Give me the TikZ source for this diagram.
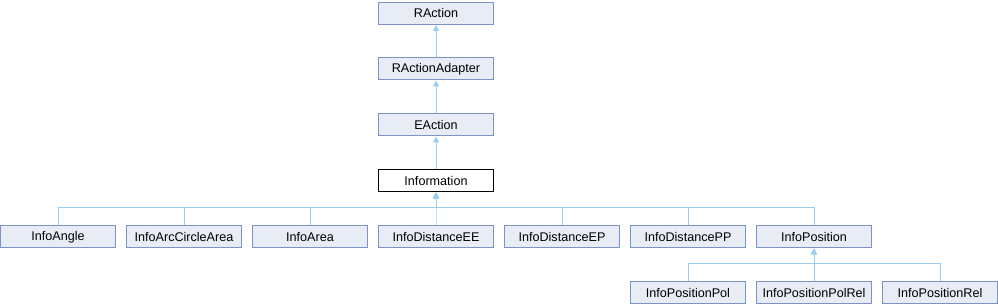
\documentclass[tikz,border=0pt]{standalone}
\usepackage{fontspec}
\setmainfont{Liberation Sans}
\usetikzlibrary{arrows.meta}
\definecolor{clsFill}{HTML}{E8ECF5}
\definecolor{clsLine}{HTML}{7B93C9}
\definecolor{inhLine}{HTML}{9ACDEB}

\begin{document}
\begin{tikzpicture}[
    x=1pt, y=-1pt,
    classbox/.style = {draw=clsLine, fill=clsFill, line width=1pt, minimum width=115pt, minimum height=22pt,
                       inner sep=0pt, font=\fontsize{12.6}{14}\selectfont},
    curclass/.style = {classbox, draw=black, fill=white},
    inherit/.style  = {draw=inhLine, line width=1pt, -{Triangle[width=6pt,length=6pt]}}
  ]
  \useasboundingbox (0,0) rectangle (998,304);

  %% chain up to the root
  \node[classbox] (raction)  at (436, 13.5)  {RAction};
  \node[classbox] (adapter)  at (436, 69)    {RActionAdapter};
  \node[classbox] (eaction)  at (436, 125)   {EAction};
  \node[curclass] (info)     at (436, 181)   {Information};
  \draw[inherit] (adapter.north) -- (raction.south);
  \draw[inherit] (eaction.north) -- (adapter.south);
  \draw[inherit] (info.north)    -- (eaction.south);

  %% direct subclasses of Information, joined on one bus
  \coordinate (infobus) at (436, 208);
  \foreach \n/\x/\l in {angle/58/InfoAngle, arc/184/InfoArcCircleArea, area/310/InfoArea,
                        distee/436/InfoDistanceEE, distep/562/InfoDistanceEP,
                        distpp/688/InfoDistancePP, pos/814/InfoPosition}{
    \node[classbox] (\n) at (\x, 237) {\l};
    \draw[inherit] (\n.north) |- (infobus) -- (info.south);
  }

  %% subclasses of InfoPosition
  \coordinate (posbus) at (814, 264);
  \foreach \n/\x/\l in {pospol/688/InfoPositionPol, pospolrel/814/InfoPositionPolRel,
                        posrel/940/InfoPositionRel}{
    \node[classbox] (\n) at (\x, 292.5) {\l};
    \draw[inherit] (\n.north) |- (posbus) -- (pos.south);
  }
\end{tikzpicture}
\end{document}
